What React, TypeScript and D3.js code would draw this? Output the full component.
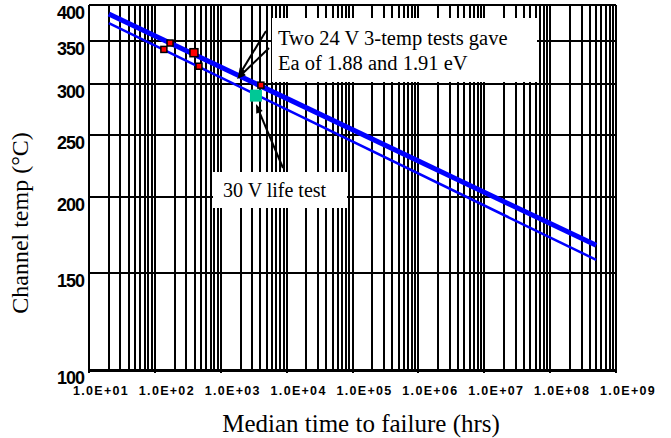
import React from 'react'
import * as d3 from 'd3'

// time axis (hrs) decades and channel temperature ticks (°C)
const xTicks = [1e1, 1e2, 1e3, 1e4, 1e5, 1e6, 1e7, 1e8, 1e9]
const yTicks = [100, 150, 200, 250, 300, 350, 400]

// Arrhenius fit lines (two Ea values)
const fitTimes = [20, 5e8]
const fitThickTemps = [387, 167]
const fitThinTemps = [374, 158]

// 24 V 3-temp test points
const pts24Times = [137, 170, 392, 467, 4070]
const pts24Temps = [340, 348, 336, 320, 299]

// 30 V life test point
const pt30Time = 3420
const pt30Temp = 288

const W = 671
const H = 438
const margin = {top: 5, right: 55, bottom: 68, left: 89}

export default function App() {
    const x = d3.scaleLog().domain([1e1, 1e9]).range([margin.left, W - margin.right])
    // y axis is linear in 1/T (K)
    const inv = d3.scaleLinear()
        .domain([1 / (400 + 273.15), 1 / (100 + 273.15)])
        .range([margin.top, H - margin.bottom])
    const y = (t: number) => inv(1 / (t + 273.15))

    const x0 = margin.left, x1 = W - margin.right
    const y0 = margin.top, y1 = H - margin.bottom

    //minor grid at 2..9 of every decade
    const minor: number[] = []
    for (let d = 1; d < 9; d++) {
        for (let k = 2; k <= 9; k++) minor.push(k * Math.pow(10, d))
    }

    const line = d3.line<number>().x((d, i) => x(fitTimes[i])).y(d => y(d))

    const serif = '"Liberation Serif", "Times New Roman", serif'
    const sans = '"Liberation Sans", Arial, sans-serif'

    const arrow = (ax: number, ay: number, bx: number, by: number) => {
        const a = Math.atan2(by - ay, bx - ax)
        const L = 9, w = 3.5
        const p1 = [bx - L * Math.cos(a) + w * Math.sin(a), by - L * Math.sin(a) - w * Math.cos(a)]
        const p2 = [bx - L * Math.cos(a) - w * Math.sin(a), by - L * Math.sin(a) + w * Math.cos(a)]
        return (
            <g>
                <line x1={ax} y1={ay} x2={bx - 6 * Math.cos(a)} y2={by - 6 * Math.sin(a)} stroke="#000" strokeWidth={2} />
                <path d={`M${bx},${by}L${p1[0]},${p1[1]}L${p2[0]},${p2[1]}Z`} fill="#000" />
            </g>
        )
    }

    return (
        <svg width={W} height={H} style={{position: 'absolute', left: 0, top: 0, background: '#fff'}}>
            <rect width={W} height={H} fill="#fff" />
            <g shapeRendering="crispEdges">
                {minor.map(v => (
                    <line key={v} x1={x(v)} x2={x(v)} y1={y0} y2={y1} stroke="#000" strokeWidth={2} />
                ))}
                {xTicks.map(v => (
                    <line key={'d' + v} x1={x(v)} x2={x(v)} y1={y0} y2={y1 + 3} stroke="#000" strokeWidth={2} />
                ))}
                {yTicks.map(v => (
                    <line key={'h' + v} x1={x0} x2={x1} y1={y(v)} y2={y(v)} stroke="#000" strokeWidth={2} />
                ))}
                <line x1={x0} x2={x1 + 1} y1={y1} y2={y1} stroke="#000" strokeWidth={3} />
                <line x1={x0} x2={x0} y1={y0} y2={y1} stroke="#000" strokeWidth={2} />
                <line x1={x1} x2={x1} y1={y0} y2={y1} stroke="#000" strokeWidth={2} />
            </g>

            <path d={line(fitThinTemps) || ''} fill="none" stroke="#0000ff" strokeWidth={2.5} />
            <path d={line(fitThickTemps) || ''} fill="none" stroke="#0000ff" strokeWidth={5} />

            {pts24Times.map((t, i) => {
                const s = i === 2 ? 8 : 6
                return <rect key={i} x={x(t) - s / 2} y={y(pts24Temps[i]) - s / 2} width={s} height={s}
                             fill="#ff0000" stroke="#000" strokeWidth={1.5} />
            })}
            <rect x={x(pt30Time) - 6} y={y(pt30Temp) - 6} width={12} height={12} fill="#00c896" />

            {/* annotations */}
            <rect x={272} y={18} width={265} height={64} fill="#fff" />
            <text x={278} y={45} fontFamily={serif} fontSize={20.5}>Two 24 V 3-temp tests gave</text>
            <text x={278} y={70} fontFamily={serif} fontSize={20.5}>Ea of 1.88 and 1.91 eV</text>
            {arrow(266, 31, 238, 77)}
            {arrow(269, 48, 237, 79)}

            <rect x={213} y={172} width={134} height={36} fill="#fff" />
            <text x={223} y={197} fontFamily={serif} fontSize={20}>30 V life test</text>
            {arrow(283, 168, 256, 104)}

            {/* tick labels */}
            {yTicks.map(v => (
                <text key={'yl' + v} x={84} y={y(v) + 8} textAnchor="end" dominantBaseline="central"
                      fontFamily={sans} fontSize={18} fontWeight={600} letterSpacing={-1}>{v}</text>
            ))}
            {xTicks.map(v => (
                <text key={'xl' + v} x={x(v) + 12} y={395} textAnchor="middle"
                      fontFamily={sans} fontWeight="bold" fontSize={12.5} letterSpacing={1.3}>
                    {'1.0E+' + String(Math.round(Math.log10(v))).padStart(2, '0')}
                </text>
            ))}

            <text x={361} y={432} textAnchor="middle" fontFamily={serif} fontSize={25}>Median time to failure (hrs)</text>
            <text transform={`translate(28,${223}) rotate(-90)`} textAnchor="middle" fontFamily={serif} fontSize={24}>Channel temp (°C)</text>
        </svg>
    )
}
